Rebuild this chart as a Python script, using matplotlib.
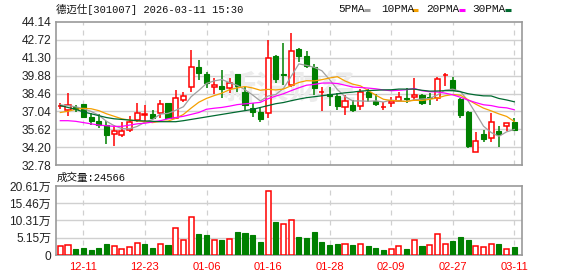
import matplotlib
matplotlib.use('Agg')
import matplotlib.pyplot as plt
import numpy as np
import pandas as pd
from matplotlib.lines import Line2D

# ---- data ----
title = '德迈仕[301007] 2026-03-11 15:30'
vol_title = '成交量:24566'

open_ = [37.45, 37.15, 37.35, 37.60, 36.62, 36.27, 35.93, 35.22, 35.18, 35.56,
         36.35, 36.72, 36.80, 36.90, 37.68, 36.50, 37.92, 39.00, 40.60, 40.00,
         38.95, 39.05, 38.87, 40.00, 38.60, 37.28, 36.96, 36.89, 41.44, 40.00,
         39.13, 42.00, 41.44, 40.60, 38.55, 38.45, 38.30, 37.36, 37.58, 37.47,
         38.60, 37.90, 37.35, 37.68, 37.86, 38.10, 38.16, 38.34, 38.15, 38.08,
         39.90, 39.53, 38.02, 37.00, 33.79, 35.24, 34.95, 35.50, 35.88, 36.20]
high = [37.70, 38.47, 37.55, 37.65, 36.90, 36.85, 36.27, 35.96, 36.20, 36.65,
        37.68, 37.55, 37.15, 37.94, 37.70, 38.74, 38.55, 41.91, 41.12, 40.20,
        39.70, 40.30, 39.67, 40.00, 39.00, 37.68, 37.40, 42.72, 41.50, 42.50,
        43.24, 42.05, 41.85, 40.78, 39.00, 38.95, 38.50, 38.34, 37.95, 38.80,
        38.78, 38.40, 37.75, 38.15, 38.55, 38.87, 39.67, 38.40, 38.47, 39.80,
        40.06, 39.80, 38.10, 37.07, 35.40, 35.56, 36.92, 35.85, 36.15, 36.55]
low = [37.25, 36.70, 37.00, 36.50, 35.95, 35.70, 34.45, 34.32, 35.00, 35.40,
       36.22, 36.25, 36.45, 36.50, 36.45, 36.40, 37.76, 38.55, 39.53, 38.87,
       38.45, 38.10, 38.47, 38.60, 37.15, 36.62, 36.17, 36.49, 39.30, 39.10,
       38.95, 40.98, 40.50, 38.34, 37.05, 37.45, 37.15, 36.78, 36.97, 37.15,
       37.80, 37.45, 37.12, 37.35, 37.75, 37.68, 37.90, 37.55, 37.55, 37.90,
       39.05, 38.68, 36.50, 34.10, 33.79, 34.58, 34.63, 34.24, 35.50, 35.50]
close = [37.50, 37.55, 37.25, 36.60, 36.30, 35.95, 35.16, 35.50, 35.45, 36.22,
         36.90, 36.85, 36.55, 37.60, 36.50, 38.13, 38.26, 40.54, 40.10, 39.27,
         39.13, 38.82, 39.27, 39.05, 37.55, 37.00, 36.45, 41.25, 39.64, 39.95,
         41.80, 41.42, 40.65, 38.87, 38.58, 38.30, 37.48, 37.86, 37.12, 38.60,
         38.15, 37.65, 37.40, 37.90, 38.16, 38.02, 38.34, 37.68, 38.10, 39.59,
         39.95, 38.70, 36.78, 34.30, 34.66, 34.87, 36.17, 35.28, 36.09, 35.58]

# volume in 万 (10k lots)
volume = [2.69, 3.00, 1.79, 2.19, 1.49, 2.09, 3.29, 2.69, 1.79, 2.39,
          3.58, 3.39, 2.19, 3.29, 2.99, 7.97, 4.48, 11.25, 6.27, 5.97,
          4.48, 4.48, 4.78, 6.87, 6.67, 5.97, 3.88, 19.02, 9.86, 9.26,
          10.36, 5.38, 5.08, 6.87, 3.88, 2.99, 3.29, 3.29, 2.99, 3.29,
          2.69, 2.09, 1.49, 1.79, 2.69, 1.79, 4.48, 2.69, 2.99, 6.27,
          3.29, 4.18, 5.38, 4.48, 2.69, 2.39, 3.29, 3.29, 1.79, 2.4566]
vol_up = [1, 1, 0, 0, 0, 0, 0, 1, 1, 1,
          1, 0, 0, 1, 0, 1, 1, 1, 0, 0,
          1, 0, 1, 0, 0, 0, 0, 1, 0, 1,
          1, 0, 0, 0, 0, 0, 0, 1, 0, 1,
          0, 0, 0, 1, 1, 0, 1, 0, 1, 1,
          1, 0, 0, 0, 1, 1, 1, 0, 1, 0]

# moving averages before enough in-window history exists
ma5_head = [37.55, 37.50, 37.40, 37.25]
ma10_head = [36.95, 37.05, 37.20, 37.28, 37.25, 37.10, 36.85, 36.65, 36.45]
ma20_head = [36.30, 36.30, 36.25, 36.15, 36.05, 35.95, 35.90, 35.85, 35.85, 35.95,
             36.05, 36.10, 36.20, 36.30, 36.45, 36.55, 36.65, 36.80, 36.95]
ma30_head = [37.50, 37.35, 37.20, 37.00, 36.85, 36.70, 36.55, 36.45, 36.40, 36.35,
             36.30, 36.28, 36.25, 36.22, 36.22, 36.22, 36.30, 36.40, 36.50, 36.60,
             36.70, 36.80, 36.90, 37.00, 37.10, 37.20, 37.35, 37.50, 37.65]

price_ticks = [32.78, 34.20, 35.62, 37.04, 38.46, 39.88, 41.30, 42.72, 44.14]
vol_ticks = [0, 5.15, 10.31, 15.46, 20.61]
vol_labels = ['0', '5.15万', '10.31万', '15.46万', '20.61万']
date_pos = [3, 11, 19, 27, 35, 43, 51, 59]
date_labels = ['12-11', '12-23', '01-06', '01-16', '01-28', '02-09', '02-27', '03-11']

ma_names = ['5PMA', '10PMA', '20PMA', '30PMA']
ma_colors = ['#a0a0a0', '#f5a000', '#ff00ff', '#006a30']

# ---- computing ----
def moving_avg(n, head):
    s = pd.Series(close).rolling(n).mean()
    s.iloc[:len(head)] = head
    return s.values

mas = [moving_avg(5, ma5_head), moving_avg(10, ma10_head),
       moving_avg(20, ma20_head), moving_avg(30, ma30_head)]

o = np.array(open_)
c = np.array(close)
h = np.array(high)
l = np.array(low)
x = np.arange(len(c))
up = c >= o

RED = '#ff0000'
GREEN = '#008000'
GRID = '#d0d0d0'
FRAME = '#999999'
cjk = ['Liberation Mono', 'Noto Sans CJK SC']
tickfont = ['Liberation Sans', 'Noto Sans CJK SC']

W, H = 578, 276
fig = plt.figure(figsize=(W / 100, H / 100), dpi=100)
ax1 = fig.add_axes([56 / W, (H - 165) / H, 466 / W, 143 / H])
ax2 = fig.add_axes([56 / W, (H - 255) / H, 466 / W, 69 / H])

xlim = (-0.56, 60.0)
for ax in (ax1, ax2):
    ax.set_xlim(*xlim)
    for sp in ax.spines.values():
        sp.set_color(FRAME)
        sp.set_linewidth(1.2)
    ax.tick_params(length=0)
    for p in date_pos:
        ax.axvline(p, color=GRID, lw=0.9, ls=(0, (4, 4)), zorder=0)

# ---- price panel ----
ax1.set_ylim(price_ticks[0], price_ticks[-1])
ax1.set_yticks(price_ticks)
ax1.set_yticklabels([f'{t:.2f}' for t in price_ticks], family=tickfont,
                    fontsize=8.6, color='#222222')
ax1.set_xticks([])
for t in price_ticks[1:-1]:
    ax1.axhline(t, color=GRID, lw=1, zorder=0)

ax1.text(0.5, 0.52, '新浪财经', transform=ax1.transAxes, ha='center', va='center',
         fontsize=24, color='#ececec', family='Noto Sans CJK SC', style='italic',
         fontweight='bold', zorder=0)

bw = 0.66
top = np.maximum(o, c)
bot = np.minimum(o, c)
cols = np.where(up, RED, GREEN)
ax1.vlines(x, top, h, colors=cols, lw=1.1, zorder=3)
ax1.vlines(x, l, bot, colors=cols, lw=1.1, zorder=3)
body = np.maximum(top - bot, 0.03)
ax1.bar(x[up], body[up], bottom=bot[up], width=bw, facecolor='white',
        edgecolor=RED, lw=1.1, zorder=4)
ax1.bar(x[~up], body[~up], bottom=bot[~up], width=bw, facecolor=GREEN,
        edgecolor=GREEN, lw=0.8, zorder=4)

for m, col in zip(mas, ma_colors):
    ax1.plot(x, m, color=col, lw=0.9, zorder=5)

# ---- volume panel ----
v = np.array(volume)
vu = np.array(vol_up, dtype=bool)
ax2.set_ylim(0, vol_ticks[-1])
ax2.set_yticks(vol_ticks)
ax2.set_yticklabels(vol_labels, family=tickfont, fontsize=8.6, color='#222222')
for t in vol_ticks[1:-1]:
    ax2.axhline(t, color=GRID, lw=1, zorder=0)
ax2.bar(x[vu], v[vu], width=bw, facecolor='white', edgecolor=RED, lw=1.1, zorder=3)
ax2.bar(x[~vu], v[~vu], width=bw, facecolor=GREEN, edgecolor=GREEN, lw=0.8, zorder=3)
ax2.set_xticks(date_pos)
ax2.set_xticklabels(date_labels, family='Liberation Sans', fontsize=8, color=RED)
ax2.tick_params(axis='x', pad=5)

# ---- header texts ----
fig.text(56 / W, 1 - 9 / H, title, family=cjk, fontsize=7.5, color='#111111',
         ha='left', va='center')
fig.text(57 / W, 1 - 178 / H, vol_title, family=cjk, fontsize=7.6, color='#111111',
         ha='left', va='center')

leg_x = [338, 381, 426, 472]
dash_x = [364, 412, 459, 505]
for name, col, tx, dx in zip(ma_names, ma_colors, leg_x, dash_x):
    fig.text(tx / W, 1 - 9.5 / H, name, family='Liberation Mono', fontsize=8,
             color='#111111', ha='left', va='center')
    fig.add_artist(Line2D([dx / W, (dx + 6) / W], [1 - 9.5 / H, 1 - 9.5 / H],
                          color=col, lw=2.2, solid_capstyle='butt'))

fig.savefig('out.png', dpi=100)
